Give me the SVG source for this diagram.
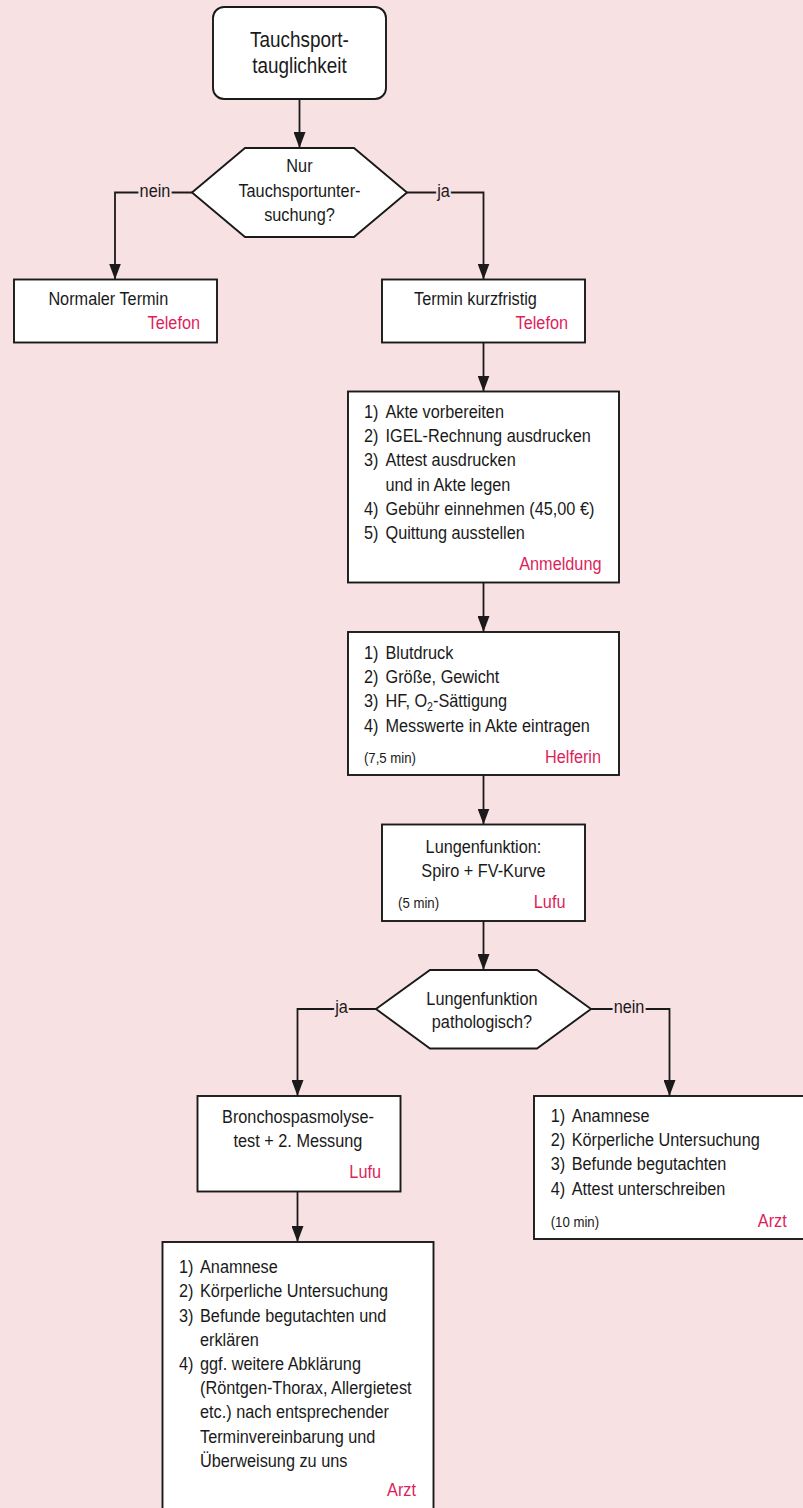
<svg xmlns="http://www.w3.org/2000/svg" width="803" height="1508" viewBox="0 0 803 1508">
<style>
.box{fill:#fff;stroke:#1a1a1a;stroke-width:1.9}
.conn{fill:none;stroke:#1a1a1a;stroke-width:1.8;marker-end:url(#arr)}
text{font-family:"Liberation Sans",Arial,Helvetica,sans-serif;font-size:18.5px;fill:#1a1a1a}
.c{text-anchor:middle}
.r{text-anchor:end;fill:#DD1F5B}
.s{font-size:15px}
.ttl{font-size:21.5px}
.lbl{paint-order:stroke;stroke:#F8E1E2;stroke-width:5px;stroke-linejoin:round}
</style>
<defs>
<marker id="arr" viewBox="0 0 16 12" refX="16" refY="6" markerWidth="16" markerHeight="12" orient="auto" markerUnits="userSpaceOnUse">
<path d="M0,0 L16,6 L0,12 z" fill="#1a1a1a"/>
</marker>
</defs>
<rect x="0" y="0" width="803" height="1508" fill="#F8E1E2"/>

<g id="connectors">
<path class="conn" d="M299.5,99 V148"/>
<path class="conn" d="M192,192.5 H115 V279.5"/>
<path class="conn" d="M407,192.5 H483.5 V279.5"/>
<path class="conn" d="M483.5,342.5 V391.5"/>
<path class="conn" d="M483.5,582.5 V632"/>
<path class="conn" d="M483.5,775 V824.5"/>
<path class="conn" d="M483.5,921 V970"/>
<path class="conn" d="M376,1009 H297.5 V1096"/>
<path class="conn" d="M591,1009 H669.5 V1096"/>
<path class="conn" d="M297.5,1191.5 V1242"/>
<g transform="scale(0.88 1)">
<text class="c lbl" x="176.1" y="197">nein</text>
<text class="c lbl" x="504" y="197">ja</text>
<text class="c lbl" x="388.1" y="1013.5">ja</text>
<text class="c lbl" x="714.8" y="1013.5">nein</text>
</g>
</g>

<g id="start">
<rect class="box" x="213" y="7" width="173" height="92" rx="11"/>
<g transform="scale(0.88 1)">
<text class="c ttl" x="340.3" y="47">Tauchsport-</text>
<text class="c ttl" x="340.3" y="73">tauglichkeit</text>
</g>
</g>

<g id="decision1">
<polygon class="box" points="245,148 354,148 407,192.5 354,237 245,237 192,192.5"/>
<g transform="scale(0.88 1)">
<text class="c" x="340.3" y="172.5">Nur</text>
<text class="c" x="340.3" y="197">Tauchsportunter-</text>
<text class="c" x="340.3" y="221.5">suchung?</text>
</g>
</g>

<g id="normal">
<rect class="box" x="14" y="279.5" width="203" height="63"/>
<g transform="scale(0.88 1)">
<text class="c" x="123.1" y="305.5">Normaler Termin</text>
<text class="r" x="227.3" y="329">Telefon</text>
</g>
</g>

<g id="kurzfristig">
<rect class="box" x="382" y="279.5" width="203" height="63"/>
<g transform="scale(0.88 1)">
<text class="c" x="540.3" y="305.5">Termin kurzfristig</text>
<text class="r" x="645.5" y="329">Telefon</text>
</g>
</g>

<g id="anmeldung">
<rect class="box" x="348" y="391.5" width="271" height="191"/>
<g transform="scale(0.88 1)">
<text x="413.6" y="418">1)</text><text x="438.1" y="418">Akte vorbereiten</text>
<text x="413.6" y="442.2">2)</text><text x="438.1" y="442.2">IGEL-Rechnung ausdrucken</text>
<text x="413.6" y="466.4">3)</text><text x="438.1" y="466.4">Attest ausdrucken</text>
<text x="438.1" y="490.6">und in Akte legen</text>
<text x="413.6" y="514.8">4)</text><text x="438.1" y="514.8">Gebühr einnehmen (45,00 €)</text>
<text x="413.6" y="539">5)</text><text x="438.1" y="539">Quittung ausstellen</text>
<text class="r" x="683.5" y="570">Anmeldung</text>
</g>
</g>

<g id="helferin">
<rect class="box" x="348" y="632" width="271" height="143"/>
<g transform="scale(0.88 1)">
<text x="413.6" y="659">1)</text><text x="438.1" y="659">Blutdruck</text>
<text x="413.6" y="683.2">2)</text><text x="438.1" y="683.2">Größe, Gewicht</text>
<text x="413.6" y="707.4">3)</text><text x="438.1" y="707.4">HF, O<tspan font-size="12" dy="4">2</tspan><tspan dy="-4">-Sättigung</tspan></text>
<text x="413.6" y="731.6">4)</text><text x="438.1" y="731.6">Messwerte in Akte eintragen</text>
<text class="s" x="413.6" y="763.5">(7,5 min)</text>
<text class="r" x="683" y="763.5">Helferin</text>
</g>
</g>

<g id="lungenfunktion">
<rect class="box" x="382" y="824.5" width="203" height="96.5"/>
<g transform="scale(0.88 1)">
<text class="c" x="549.4" y="853.3">Lungenfunktion:</text>
<text class="c" x="549.4" y="877">Spiro + FV-Kurve</text>
<text class="s" x="452.3" y="908">(5 min)</text>
<text class="r" x="642.6" y="908">Lufu</text>
</g>
</g>

<g id="decision2">
<polygon class="box" points="430,970 537,970 591,1009 537,1048.5 430,1048.5 376,1009"/>
<g transform="scale(0.88 1)">
<text class="c" x="547.7" y="1005">Lungenfunktion</text>
<text class="c" x="547.7" y="1028.3">pathologisch?</text>
</g>
</g>

<g id="broncho">
<rect class="box" x="197.5" y="1096" width="203" height="95.5"/>
<g transform="scale(0.88 1)">
<text class="c" x="338.6" y="1123">Bronchospasmolyse-</text>
<text class="c" x="338.6" y="1147">test + 2. Messung</text>
<text class="r" x="433" y="1178">Lufu</text>
</g>
</g>

<g id="arzt-normal">
<rect class="box" x="534" y="1096" width="271" height="143"/>
<g transform="scale(0.88 1)">
<text x="625.8" y="1122">1)</text><text x="649.7" y="1122">Anamnese</text>
<text x="625.8" y="1146.3">2)</text><text x="649.7" y="1146.3">Körperliche Untersuchung</text>
<text x="625.8" y="1170.5">3)</text><text x="649.7" y="1170.5">Befunde begutachten</text>
<text x="625.8" y="1194.7">4)</text><text x="649.7" y="1194.7">Attest unterschreiben</text>
<text class="s" x="625.8" y="1226.7">(10 min)</text>
<text class="r" x="894" y="1226.7">Arzt</text>
</g>
</g>

<g id="arzt-patho">
<rect class="box" x="162.5" y="1242" width="271" height="290"/>
<g transform="scale(0.88 1)">
<text x="203.4" y="1273.3">1)</text><text x="227.3" y="1273.3">Anamnese</text>
<text x="203.4" y="1297.5">2)</text><text x="227.3" y="1297.5">Körperliche Untersuchung</text>
<text x="203.4" y="1321.7">3)</text><text x="227.3" y="1321.7">Befunde begutachten und</text>
<text x="227.3" y="1345.9">erklären</text>
<text x="203.4" y="1370.1">4)</text><text x="227.3" y="1370.1">ggf. weitere Abklärung</text>
<text x="227.3" y="1394.3">(Röntgen-Thorax, Allergietest</text>
<text x="227.3" y="1418.5">etc.) nach entsprechender</text>
<text x="227.3" y="1442.7">Terminvereinbarung und</text>
<text x="227.3" y="1466.9">Überweisung zu uns</text>
<text class="r" x="472.7" y="1496.5">Arzt</text>
</g>
</g>
</svg>
